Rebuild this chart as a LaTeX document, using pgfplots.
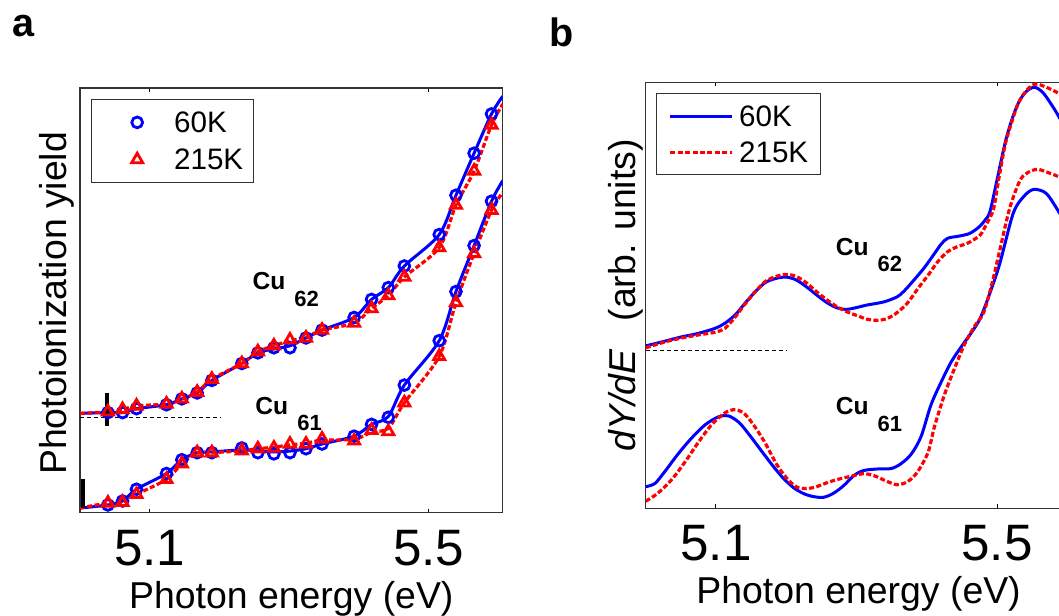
\documentclass[border=0pt]{standalone}
\usepackage{fontspec}
\setmainfont{Liberation Sans}
\usepackage{pgfplots}
\pgfplotsset{compat=1.18}
\definecolor{myblue}{RGB}{0,0,255}
\definecolor{myred}{RGB}{255,0,0}
\pgfplotsset{
 common/.style={
  scale only axis, xmin=5.0, xmax=5.606,
  xtick={5.1,5.5}, ytick=\empty,
  xticklabel={\pgfmathprintnumber[fixed,precision=1,fixed zerofill]{\tick}},
  /pgf/number format/assume math mode=true,
  tick align=inside, major tick length=2bp,
  every tick/.style={black, line width=0.5bp},
  axis line style={black!80, line width=0.6bp},
  x tick label style={font=\fontsize{25.6bp}{28bp}\selectfont, inner sep=0pt, anchor=north, yshift=-8.5bp},
  xlabel style={font=\fontsize{18.7bp}{21bp}\selectfont, inner sep=0pt, at={(axis description cs:0.5,0)}, anchor=base, yshift=-47.75bp},
  ylabel style={font=\fontsize{18.7bp}{21bp}\selectfont, inner sep=0pt, anchor=base},
  xlabel={Photon energy (eV)},
  legend cell align=left,
 },
 blueline/.style={color=myblue, line width=1.5bp, no markers, smooth},
 redline/.style={color=myred, line width=1.6bp, dash pattern=on 2.5bp off 1.2bp, no markers, smooth},
 markleg/.style={legend image code/.code={\path[draw=none,fill=none] (0bp,-9.3bp) rectangle (36.15bp,9.3bp); \draw[##1] plot coordinates {(17.7bp,0bp)};}},
 lineleg/.style={legend image code/.code={\path[draw=none,fill=none] (0bp,-9.1bp) rectangle (34.7bp,9.1bp); \draw[##1] (0.35bp,0bp) -- (31.35bp,0bp);}},
}
\tikzset{cufont/.style={anchor=base west, inner sep=0pt, font=\fontsize{12.3bp}{14bp}\selectfont\bfseries}}
\newcommand{\sub}[1]{\hspace{4.5bp}\raisebox{-8.3bp}{\fontsize{11bp}{12bp}\selectfont\bfseries #1}}
\begin{document}
\begin{tikzpicture}
\useasboundingbox (0,0) rectangle (529.5bp,308bp);
\clip (0,0) rectangle (529.5bp,308bp);
\node[anchor=base west, inner sep=0pt, font=\fontsize{19.8bp}{22bp}\selectfont\bfseries] at (6bp,289.5bp) {a};
\node[anchor=base west, inner sep=0pt, font=\fontsize{19.8bp}{22bp}\selectfont\bfseries] at (274.5bp,284.5bp) {b};

% ---------------- panel a ----------------
\begin{axis}[common, markleg,
  at={(40bp,51.6bp)}, anchor=south west, width=211.35bp, height=212.4bp,
  ymin=295, ymax=1376,
  ylabel={Photoionization yield},
  ylabel style={at={(axis description cs:-0.0308,0.493)}},
  legend style={at={(axis description cs:0.0253,0.9734)}, anchor=north west, draw=black!80, line width=0.5bp,
    inner xsep=5.3bp, inner ysep=2bp, nodes={inner sep=0pt, text depth=0pt}, column sep=0pt, row sep=0pt,
    font=\fontsize{14.8bp}{16bp}\selectfont},
]
% Cu62 60K
\addplot[blueline, forget plot] coordinates {(5.000,548) (5.040,550) (5.061,550) (5.081,560) (5.124,570) (5.146,585) (5.168,600) (5.189,632) (5.232,675) (5.255,702) (5.278,712) (5.301,720) (5.324,740) (5.347,760) (5.393,792) (5.418,838) (5.442,868) (5.465,923) (5.515,1003) (5.539,1103) (5.565,1210) (5.590,1310) (5.606,1355)};
% Cu61 60K
\addplot[blueline, forget plot] coordinates {(5.000,307) (5.040,315) (5.061,325) (5.081,355) (5.124,395) (5.146,430) (5.168,448) (5.189,450) (5.232,455) (5.255,452) (5.278,450) (5.301,452) (5.324,458) (5.347,470) (5.393,490) (5.418,520) (5.442,540) (5.465,620) (5.515,733) (5.539,858) (5.565,975) (5.590,1088) (5.606,1140)};
\addplot[only marks, mark=o, color=myblue, mark size=2.7bp, line width=1.4bp]
  coordinates {(5.040,550) (5.061,550) (5.081,560) (5.124,570) (5.146,585) (5.168,600) (5.189,632) (5.232,675) (5.255,702) (5.278,715) (5.301,715) (5.324,740) (5.347,760) (5.393,792) (5.418,838) (5.442,868) (5.465,923) (5.515,1003) (5.539,1103) (5.565,1210) (5.590,1310)
  (5.040,315) (5.061,325) (5.081,355) (5.124,395) (5.146,430) (5.168,448) (5.189,448) (5.232,460) (5.255,448) (5.278,445) (5.301,448) (5.324,458) (5.347,470) (5.393,490) (5.418,520) (5.442,538) (5.465,620) (5.515,733) (5.539,858) (5.565,975) (5.590,1088)};
\addlegendentry{60K}
% Cu62 215K
\addplot[redline, forget plot] coordinates {(5.000,548) (5.040,552) (5.061,558) (5.081,567) (5.124,572) (5.146,585) (5.168,602) (5.189,635) (5.232,675) (5.255,705) (5.278,720) (5.301,733) (5.324,742) (5.347,760) (5.393,778) (5.418,815) (5.442,848) (5.465,895) (5.515,970) (5.539,1078) (5.565,1165) (5.590,1282) (5.606,1335)};
% Cu61 215K
\addplot[redline, forget plot] coordinates {(5.000,307) (5.040,320) (5.061,322) (5.081,342) (5.124,380) (5.146,420) (5.168,448) (5.189,448) (5.232,453) (5.255,458) (5.278,462) (5.301,468) (5.324,472) (5.347,480) (5.393,482) (5.418,500) (5.442,510) (5.465,575) (5.515,693) (5.539,830) (5.565,955) (5.590,1065) (5.606,1110)};
\addplot[only marks, mark=triangle, color=myred, mark size=3.2bp, line width=1.4bp]
  coordinates {(5.040,552) (5.061,558) (5.081,567) (5.124,572) (5.146,585) (5.168,602) (5.189,635) (5.232,675) (5.255,705) (5.278,720) (5.301,735) (5.324,740) (5.347,760) (5.393,778) (5.418,815) (5.442,848) (5.465,895) (5.515,970) (5.539,1078) (5.565,1165) (5.590,1282)
  (5.040,320) (5.061,322) (5.081,342) (5.124,380) (5.146,420) (5.168,448) (5.189,448) (5.232,453) (5.255,458) (5.278,460) (5.301,470) (5.324,470) (5.347,483) (5.393,478) (5.418,505) (5.442,502) (5.465,575) (5.515,693) (5.539,830) (5.565,955) (5.590,1065)};
\addlegendentry{215K}
% baseline and onset bars
\addplot[black, line width=0.4bp, dash pattern=on 2bp off 1.5bp, forget plot] coordinates {(5.0,537) (5.202,537)};
\addplot[black, line width=2bp, forget plot] coordinates {(5.039,517) (5.039,600)};
\addplot[black, line width=2bp, forget plot] coordinates {(5.004,307) (5.004,381)};
\node[cufont] at (axis cs:5.247,862) {Cu\sub{62}};
\node[cufont] at (axis cs:5.251,546) {Cu\sub{61}};
\end{axis}

% ---------------- panel b ----------------
\begin{axis}[common, lineleg,
  at={(322.85bp,53.85bp)}, anchor=south west, width=212.9bp, height=212.9bp,
  ymin=307, ymax=1390,
  ylabel={\textit{dY/dE}\hspace{0.75em}(arb. units)},
  ylabel style={at={(axis description cs:-0.0251,0.5)}},
  legend style={at={(axis description cs:0.0249,0.9746)}, anchor=north west, draw=black!80, line width=0.5bp,
    inner xsep=6bp, inner ysep=2bp, nodes={inner sep=0pt, text depth=0pt}, column sep=0pt, row sep=0pt,
    font=\fontsize{14.8bp}{16bp}\selectfont},
]
\addplot[blueline]
 coordinates {(5.000,720) (5.027,732) (5.051,743) (5.075,752) (5.099,765) (5.113,778) (5.128,800) (5.142,830) (5.157,860) (5.171,882) (5.186,892) (5.200,895) (5.214,888) (5.229,870) (5.243,850) (5.258,830) (5.272,817) (5.286,813) (5.301,818) (5.315,824) (5.339,832) (5.358,845) (5.368,860) (5.382,888) (5.397,920) (5.411,955) (5.421,980) (5.430,994) (5.445,999) (5.461,1006) (5.474,1022) (5.483,1040) (5.490,1062) (5.500,1142) (5.512,1240) (5.522,1300) (5.531,1340) (5.541,1366) (5.553,1378) (5.565,1365) (5.577,1335) (5.588,1303) (5.606,1240)};
\addlegendentry{60K}
\addplot[blueline, forget plot]
 coordinates {(5.000,362) (5.013,370) (5.027,400) (5.046,445) (5.065,485) (5.085,520) (5.104,540) (5.118,542) (5.133,525) (5.147,495) (5.166,450) (5.181,415) (5.195,385) (5.210,360) (5.224,345) (5.238,337) (5.253,335) (5.267,345) (5.282,365) (5.296,390) (5.310,403) (5.330,407) (5.349,408) (5.363,420) (5.378,445) (5.392,490) (5.406,570) (5.421,630) (5.435,680) (5.450,720) (5.464,755) (5.476,790) (5.490,855) (5.504,930) (5.523,1057) (5.538,1100) (5.552,1118) (5.570,1108) (5.588,1061) (5.606,1010)};
\addplot[redline]
 coordinates {(5.000,715) (5.027,730) (5.051,740) (5.075,748) (5.099,755) (5.113,765) (5.128,795) (5.142,828) (5.157,860) (5.171,885) (5.186,897) (5.200,902) (5.214,897) (5.229,880) (5.243,858) (5.258,837) (5.272,820) (5.286,807) (5.301,797) (5.315,788) (5.330,785) (5.344,790) (5.358,805) (5.373,830) (5.387,865) (5.402,900) (5.416,935) (5.430,960) (5.443,972) (5.459,982) (5.476,1002) (5.485,1030) (5.495,1068) (5.503,1150) (5.512,1235) (5.522,1295) (5.531,1340) (5.543,1372) (5.555,1386) (5.570,1378) (5.588,1362) (5.606,1340)};
\addlegendentry{215K}
\addplot[redline, forget plot]
 coordinates {(5.000,325) (5.017,345) (5.037,380) (5.056,425) (5.075,475) (5.094,520) (5.113,550) (5.128,558) (5.142,545) (5.157,510) (5.171,470) (5.186,420) (5.200,385) (5.214,362) (5.229,357) (5.243,362) (5.258,372) (5.272,380) (5.291,388) (5.310,395) (5.325,390) (5.344,375) (5.358,367) (5.373,375) (5.387,400) (5.402,450) (5.411,515) (5.426,600) (5.440,665) (5.454,725) (5.468,770) (5.481,805) (5.493,880) (5.504,964) (5.518,1070) (5.533,1142) (5.545,1162) (5.558,1169) (5.574,1160) (5.588,1150) (5.606,1130)};
\addplot[black, line width=0.4bp, dash pattern=on 2bp off 1.5bp, forget plot] coordinates {(5.0,708) (5.200,708)};
\node[cufont] at (axis cs:5.270,951) {Cu\sub{62}};
\node[cufont] at (axis cs:5.270,545) {Cu\sub{61}};
\end{axis}
\end{tikzpicture}
\end{document}
